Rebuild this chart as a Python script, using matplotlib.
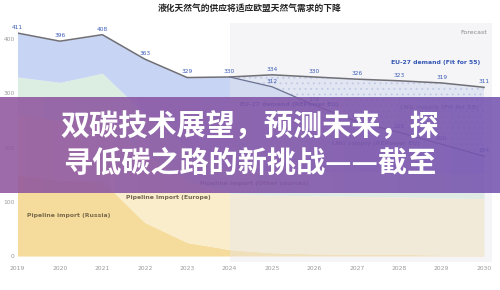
import numpy as np
import matplotlib
matplotlib.use("Agg")
import matplotlib.pyplot as plt

# ----------------------- Data -----------------------
years = list(range(2019, 2031))
demand_fit55 = [411, 396, 408, 363, 329, 330, 334, 330, 326, 323, 319, 311]
repower_years = list(range(2024, 2031))
demand_repower = [330, 312, 278, 248, 228, 206, 184]
pipe_russia = [150, 140, 138, 62, 25, 12, 6, 4, 3, 3, 2, 2]
pipe_europe = [112, 110, 114, 125, 115, 104, 106, 107, 107, 106, 105, 104]
pipe_other = [68, 70, 85, 75, 60, 44, 44, 45, 46, 46, 46, 46]

title = "液化天然气的供应将适应欧盟天然气需求的下降"
banner_lines = ["双碳技术展望，预测未来，探", "寻低碳之路的新挑战——截至"]
cjk = ["Noto Sans CJK SC", "DejaVu Sans"]

# ----------------------- Figure -----------------------
fig = plt.figure(figsize=(5, 2.9), dpi=100)
fig.patch.set_facecolor("white")
ax = fig.add_axes([0.035, 0.0966, 0.95, 0.825])

x = np.array(years)
r = np.array(pipe_russia)
e = r + np.array(pipe_europe)
o = e + np.array(pipe_other)
lng_top = np.array(demand_fit55[:5] + demand_repower)

ax.fill_between(x, 0, r, color="#f6dc9c", lw=0, zorder=1)
ax.fill_between(x, r, e, color="#f9edcb", lw=0, zorder=1)
ax.fill_between(x, e, o, color="#dcede1", lw=0, zorder=1)
ax.fill_between(x, o, lng_top, color="#c7d4f3", lw=0, zorder=1)
plt.rcParams["hatch.linewidth"] = 0.6
ax.fill_between(repower_years, demand_repower, demand_fit55[5:],
                facecolor="#dfe6f7", edgecolor="#a9b8e0", hatch="...",
                lw=0, zorder=1)

# forecast shading
ax.axvspan(2024, 2030.2, color="#e6e6ec", alpha=0.4, lw=0, zorder=2)
ax.text(2029.75, 412, "Forecast", fontsize=4.5, color="#8a8a8a",
        ha="center", va="center", zorder=5)

# demand lines
ax.plot(years, demand_fit55, color="#6f6f75", lw=1.1, zorder=4)
ax.plot(repower_years, demand_repower, color="#6a7090", lw=0.9, zorder=4)

lab_col = "#3f5fb8"
for yr, v in zip(years, demand_fit55):
    ax.annotate(str(v), (yr, v), xytext=(0, 4), textcoords="offset points",
                ha="center", va="center", fontsize=4.2, color=lab_col, zorder=5)
for yr, v in zip(repower_years[1:], demand_repower[1:]):
    ax.annotate(str(v), (yr, v), xytext=(0, 4), textcoords="offset points",
                ha="center", va="center", fontsize=4.2, color=lab_col, zorder=5)

# series labels
ax.text(2028.85, 356, "EU-27 demand (Fit for 55)", fontsize=4.4,
        fontweight="bold", color="#3558b5", ha="center", va="center", zorder=5)
ax.text(2025.4, 280, "EU-27 demand (REPower EU)", fontsize=4.4,
        fontweight="bold", color="#4a66b8", ha="center", va="center", zorder=5)
ax.text(2028.95, 273, "LNG supply (Fit for 55)", fontsize=4.4,
        fontweight="bold", color="#8b97bd", ha="center", va="center", zorder=5)
ax.text(2027.45, 207, "LNG supply (REPower EU)", fontsize=4.4,
        fontweight="bold", color="#7d88b0", ha="center", va="center", zorder=5)
ax.text(2024.6, 133, "Pipeline import (Other sources)", fontsize=4.4,
        fontweight="bold", color="#8a7c78", ha="center", va="center", zorder=5)
ax.text(2022.55, 107, "Pipeline Import (Europe)", fontsize=4.4,
        fontweight="bold", color="#736753", ha="center", va="center", zorder=5)
ax.text(2020.2, 75, "Pipeline import (Russia)", fontsize=4.4,
        fontweight="bold", color="#7a6a4c", ha="center", va="center", zorder=5)

ax.set_xlim(2019, 2030.2)
ax.set_ylim(-11, 430)
ax.set_xticks(years)
ax.set_xticklabels([str(y) for y in years])
ax.set_yticks([0, 100, 200, 300, 400])
ax.tick_params(length=0, labelsize=4.3, colors="#9a9a9a")
ax.tick_params(axis="x", pad=3)
ax.tick_params(axis="y", pad=2)
for s in ax.spines.values():
    s.set_visible(False)

fig.text(0.5, 1 - 8 / 290, title, fontsize=6.3, color="#222222",
         fontweight="bold", ha="center", va="center", family=cjk)

# ----------------------- Banner overlay -----------------------
bax = fig.add_axes([0, 1 - 193 / 290, 1, 96 / 290])
left_c = np.array([0.57, 0.34, 0.62])
right_c = np.array([0.46, 0.33, 0.69])
t = np.linspace(0, 1, 256)[None, :, None]
grad = left_c * (1 - t) + right_c * t
bax.imshow(grad, aspect="auto", extent=[0, 1, 0, 1], alpha=0.88)
bax.axis("off")

fig.text(0.5, 1 - 126 / 290, banner_lines[0], fontsize=21, color="white",
         fontweight="bold", ha="center", va="center", family=cjk)
fig.text(0.5, 1 - 163 / 290, banner_lines[1], fontsize=21, color="white",
         fontweight="bold", ha="center", va="center", family=cjk)

fig.savefig("out.png", dpi=100)
